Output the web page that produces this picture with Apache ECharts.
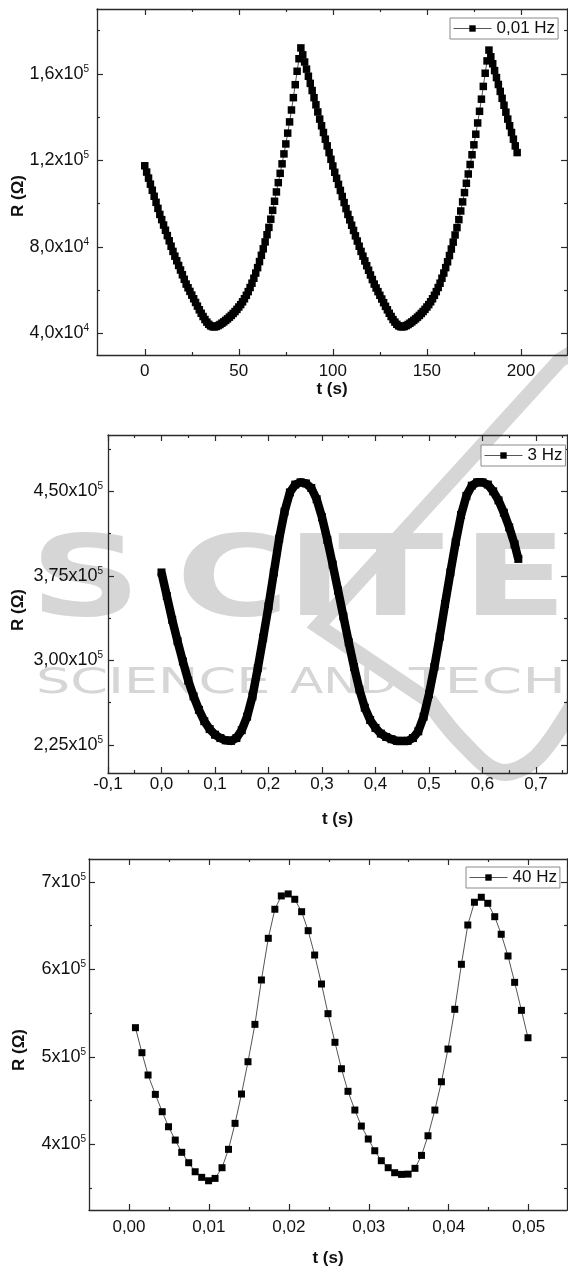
<!DOCTYPE html>
<html><head><meta charset="utf-8">
<script src="https://cdn.jsdelivr.net/npm/echarts@6/dist/echarts.min.js"></script>
<style>html,body{margin:0;padding:0;background:#fff}#c{width:568px;height:1269px}</style>
</head><body><div id="c"></div>
<script>
// ---------- Panel 1 : 0,01 Hz ----------
const p1Time = [0,1,2,3,4,5,6,7,8,9,10,11,12,13,14,15,16,17,18,19,20,21,22,23,24,25,26,27,28,29,30,31,32,33,34,35,36,37,38,39,40,41,42,43,44,45,46,47,48,49,50,51,52,53,54,55,56,57,58,59,60,61,62,63,64,65,66,67,68,69,70,71,72,73,74,75,76,77,78,79,80,81,82,83,84,85,86,87,88,89,90,91,92,93,94,95,96,97,98,99,100,101,102,103,104,105,106,107,108,109,110,111,112,113,114,115,116,117,118,119,120,121,122,123,124,125,126,127,128,129,130,131,132,133,134,135,136,137,138,139,140,141,142,143,144,145,146,147,148,149,150,151,152,153,154,155,156,157,158,159,160,161,162,163,164,165,166,167,168,169,170,171,172,173,174,175,176,177,178,179,180,181,182,183,184,185,186,187,188,189,190,191,192,193,194,195,196,197,198];
const p1R = [117500,114600,111800,109000,106200,103400,100600,97800,95000,92600,90100,87700,85200,82800,80300,77900,75700,73600,71400,69300,67100,65000,62800,61100,59400,57700,56000,54300,52600,50900,49300,47800,46400,45200,44200,43500,43100,43000,43200,43600,44100,44700,45300,46000,46700,47500,48300,49200,50100,51100,52200,53300,54600,56000,57600,59300,61200,63200,65500,67900,70400,73200,76100,79100,82300,85600,89000,92800,96900,101100,105400,109700,114000,118400,123000,127600,132600,137800,143300,149000,155000,161200,167000,172000,168800,165500,162200,158900,155600,152300,149000,145700,142400,139100,136000,132900,129800,126700,123600,120500,117400,114500,111700,108900,106100,103300,100500,97700,95000,92500,90000,87600,85100,82700,80300,77900,75700,73500,71300,69200,67000,64900,62800,61000,59300,57600,55900,54200,52500,50900,49300,47800,46400,45200,44200,43500,43100,43000,43200,43600,44100,44700,45300,46000,46700,47500,48300,49200,50100,51100,52200,53300,54600,56000,57600,59300,61200,63200,65500,67900,70400,73100,76000,79000,82200,85500,88900,92600,96600,100800,105100,109400,113700,118100,122600,127200,132100,137300,142700,148300,154200,160300,166000,171000,167900,164700,161500,158300,155100,151900,148700,145500,142300,139100,136000,132900,129800,126700,123600];
const p1XTicks = [0,50,100,150,200];
const p1XLabels = ['0','50','100','150','200'];
const p1XMinor = [25,75,125,175];
const p1YTicks = [40000,80000,120000,160000];
const p1YMant = ['4,0','8,0','1,2','1,6'];
const p1YExp = ['4','4','5','5'];
const p1YMinor = [60000,100000,140000,180000];

// ---------- Panel 2 : 3 Hz ----------
const p2Time = [0,0.01,0.02,0.03,0.04,0.05,0.06,0.07,0.08,0.09,0.10,0.11,0.12,0.13,0.14,0.15,0.16,0.17,0.18,0.19,0.20,0.21,0.22,0.23,0.24,0.25,0.26,0.27,0.28,0.29,0.30,0.31,0.32,0.33,0.34,0.35,0.36,0.37,0.38,0.39,0.40,0.41,0.42,0.43,0.44,0.45,0.46,0.47,0.48,0.49,0.50,0.51,0.52,0.53,0.54,0.55,0.56,0.57,0.58,0.59,0.60,0.61,0.62,0.63,0.64,0.65,0.66,0.667];
const p2R = [378000,357000,336000,317000,299000,282000,268000,256000,246000,239000,234000,231000,229000,228500,231000,238000,250000,268000,293000,320000,348000,378000,408000,432000,449000,456000,458000,457000,453000,443000,427000,407000,385000,362000,339000,316000,294000,274000,258000,247000,240000,235000,232000,230000,228500,228500,228500,231000,237000,250000,270000,294000,321000,350000,378000,405000,429000,446000,455000,458000,458000,456000,450000,442000,431000,418000,403000,390000];
const p2XTicks = [-0.1,0,0.1,0.2,0.3,0.4,0.5,0.6,0.7];
const p2XLabels = ['-0,1','0,0','0,1','0,2','0,3','0,4','0,5','0,6','0,7'];
const p2XMinor = [-0.05,0.05,0.15,0.25,0.35,0.45,0.55,0.65,0.75];
const p2YTicks = [225000,300000,375000,450000];
const p2YMant = ['2,25','3,00','3,75','4,50'];
const p2YExp = ['5','5','5','5'];
const p2YMinor = [262500,337500,412500,487500];

// ---------- Panel 3 : 40 Hz ----------
const p3Time = [0.00081,0.00162,0.00239,0.0033,0.00416,0.00495,0.00579,0.0066,0.00747,0.00828,0.0091,0.00996,0.01077,0.01164,0.01245,0.01327,0.01408,0.01489,0.01576,0.01657,0.01743,0.01825,0.01906,0.01992,0.02074,0.0216,0.02242,0.02323,0.02409,0.0249,0.02577,0.02658,0.0274,0.02826,0.02907,0.02994,0.03075,0.03157,0.03243,0.03324,0.0341,0.03492,0.03578,0.0366,0.03741,0.03827,0.03909,0.03991,0.04076,0.04159,0.04239,0.04322,0.04408,0.04489,0.04576,0.04657,0.04742,0.04825,0.0491,0.04992];
const p3R = [533300,504700,479200,457100,437300,420100,404900,390900,379000,368700,362300,358400,361100,373300,394300,424000,457500,494400,537100,587800,635400,668600,683800,686100,680000,665800,644100,616300,583200,549300,516600,486400,460600,439200,420900,406100,392700,381300,373300,367600,365700,366000,372600,387400,409800,439200,471500,508900,554300,605700,650600,676600,682300,675400,660100,640000,615200,585100,553100,521800];
const p3XTicks = [0,0.01,0.02,0.03,0.04,0.05];
const p3XLabels = ['0,00','0,01','0,02','0,03','0,04','0,05'];
const p3XMinor = [0.005,0.015,0.025,0.035,0.045];
const p3YTicks = [400000,500000,600000,700000];
const p3YMant = ['4','5','6','7'];
const p3YExp = ['5','5','5','5'];
const p3YMinor = [350000,450000,550000,650000];

// ---------- Publisher watermark text (behind the charts) ----------
const wmBigLetters = ['S','C','I','T','E'];
const wmWords = ['SCIENCE','AND','TECH'];

const FONT = 'Liberation Sans, Arial, Helvetica, sans-serif';
const AX = '#2a2a2a';
const WM = '#d6d6d6';

function near(list, v){
  for (let i=0;i<list.length;i++){ if (Math.abs(list[i]-v) <= 1e-7*Math.max(1,Math.abs(list[i]))) return i; }
  return -1;
}
function xFmt(ticks, labels){ return v => { const i = near(ticks, v); return i<0 ? '' : labels[i]; }; }
function yFmt(ticks, mant, exps){ return v => { const i = near(ticks, v); return i<0 ? '' : '{n|'+mant[i]+'x10}{s|'+exps[i]+'}'; }; }

const xAxes = [], yAxes = [];
function frame(grid, dim, min, max, major, minor, fmt, lblMargin, name, nameGap){
  const list = dim==='x' ? xAxes : yAxes;
  const pos1 = dim==='x' ? 'bottom' : 'left';
  const pos2 = dim==='x' ? 'top' : 'right';
  const lineStyle = {color: AX, width: 1.3};
  const mainIdx = list.length;
  const labelCfg = dim==='x'
    ? {show:true, customValues: major, formatter: fmt, margin: lblMargin, fontSize: 17, color:'#111', fontFamily: FONT}
    : {show:true, customValues: major, formatter: fmt, margin: lblMargin, fontSize: 18, color:'#111', fontFamily: FONT,
       rich: {n:{fontSize:18, color:'#111', fontFamily: FONT, lineHeight: 20},
              s:{fontSize:10, color:'#111', fontFamily: FONT, verticalAlign:'top', lineHeight: 20}}};
  const main = {type:'value', gridIndex: grid, position: pos1, min, max,
    axisLine:{show:true, onZero:false, lineStyle},
    axisTick:{show:true, inside:true, length:6, customValues: major, lineStyle:{color:AX, width:1.2}},
    axisLabel: labelCfg, splitLine:{show:false}};
  if (name) {
    Object.assign(main, {name, nameLocation:'middle', nameGap,
      nameTextStyle:{fontSize:17, fontWeight:'bold', color:'#111', fontFamily: FONT}});
  }
  list.push(main);
  list.push({type:'value', gridIndex: grid, position: pos1, min, max,
    axisLine:{show:false, onZero:false},
    axisTick:{show:true, inside:true, length:3, customValues: minor, lineStyle:{color:AX, width:1.2}},
    axisLabel:{show:false}, splitLine:{show:false}});
  list.push({type:'value', gridIndex: grid, position: pos2, min, max,
    axisLine:{show:true, onZero:false, lineStyle},
    axisTick:{show:true, inside:true, length:6, customValues: major, lineStyle:{color:AX, width:1.2}},
    axisLabel:{show:false}, splitLine:{show:false}});
  list.push({type:'value', gridIndex: grid, position: pos2, min, max,
    axisLine:{show:false, onZero:false},
    axisTick:{show:true, inside:true, length:3, customValues: minor, lineStyle:{color:AX, width:1.2}},
    axisLabel:{show:false}, splitLine:{show:false}});
  return mainIdx;
}

const grids = [
  {left:97, top:9, right:1, height:346},
  {left:108, top:435, right:1, height:338},
  {left:89, top:859, right:1, height:351}
];

const x1 = frame(0,'x',-25.4,224.5,p1XTicks,p1XMinor,xFmt(p1XTicks,p1XLabels),8,'t (s)',16);
const y1 = frame(0,'y',30000,190000,p1YTicks,p1YMinor,yFmt(p1YTicks,p1YMant,p1YExp),8,null,0);
const x2 = frame(1,'x',-0.1,0.758,p2XTicks,p2XMinor,xFmt(p2XTicks,p2XLabels),3,'t (s)',38);
const y2 = frame(1,'y',200000,500000,p2YTicks,p2YMinor,yFmt(p2YTicks,p2YMant,p2YExp),5,null,0);
const x3 = frame(2,'x',-0.005,0.0548,p3XTicks,p3XMinor,xFmt(p3XTicks,p3XLabels),9,'t (s)',40);
const y3 = frame(2,'y',325000,726000,p3YTicks,p3YMinor,yFmt(p3YTicks,p3YMant,p3YExp),3,null,0);

function pairs(t, r){ return t.map((v,i)=>[v, r[i]]); }

const legendBase = {
  orient:'horizontal', borderColor:'#8a8a8a', borderWidth:1, padding:[2,3,2,3],
  itemWidth:38, itemHeight:8, backgroundColor:'#fff',
  textStyle:{fontSize:17, color:'#111', fontFamily: FONT},
  lineStyle:{width:1, color:'#555'}, selectedMode:false
};

function yTitle(x, y){
  return {type:'text', x, y, rotation: Math.PI/2, silent:true,
    style:{text:'R (\u03A9)', fill:'#111', font:'bold 17px ' + FONT, align:'center', verticalAlign:'middle'}};
}

// watermark (drawn under everything)
const bigX = [30, 176, 286, 338, 462];
const wordX = [36, 290, 409];
const wordScale = [1.5, 1.35, 1.62];
const watermark = [];
wmBigLetters.forEach((ch, i) => watermark.push({type:'text', x: bigX[i], y: 586, scaleX: 1.38, z: -10, silent:true,
  style:{text: ch, fill: WM, font: 'bold 112px DejaVu Sans, sans-serif', align:'left', verticalAlign:'middle'}}));
wmWords.forEach((w, i) => watermark.push({type:'text', x: wordX[i], y: 684, scaleX: wordScale[i], z: -10, silent:true,
  style:{text: w, fill: WM, font: '36px DejaVu Sans, sans-serif', align:'left', verticalAlign:'middle'}}));
watermark.push({type:'polyline', z:-9, silent:true,
  shape:{points:[[585,345],[560,360],[318,626],[428,700]]},
  style:{stroke: WM, lineWidth: 15, fill: null, lineJoin:'miter'}});
watermark.push({type:'polyline', z:-9, silent:true,
  shape:{points:[[428,700],[462,742],[500,772],[536,758],[575,702]], smooth:0.35},
  style:{stroke: WM, lineWidth: 17, fill: null}});

const option = {
  animation:false,
  backgroundColor:'#fff',
  grid: grids,
  xAxis: xAxes,
  yAxis: yAxes,
  graphic: watermark.concat([yTitle(18,196), yTitle(18,610), yTitle(19,1050)]),
  legend: [
    Object.assign({}, legendBase, {data:['0,01 Hz'], left:450, top:18}),
    Object.assign({}, legendBase, {data:['3 Hz'], left:481, top:445}),
    Object.assign({}, legendBase, {data:['40 Hz'], left:466, top:867})
  ],
  series: [
    {name:'0,01 Hz', type:'line', xAxisIndex:x1, yAxisIndex:y1, data:pairs(p1Time,p1R),
     symbol:'rect', symbolSize:7.5, showAllSymbol:true, itemStyle:{color:'#000'},
     lineStyle:{color:'#555', width:1}, silent:true},
    {name:'3 Hz', type:'line', xAxisIndex:x2, yAxisIndex:y2, data:pairs(p2Time,p2R),
     symbol:'rect', symbolSize:8, showAllSymbol:true, itemStyle:{color:'#000'},
     lineStyle:{color:'#000', width:8.5, join:'round'}, silent:true},
    {name:'40 Hz', type:'line', xAxisIndex:x3, yAxisIndex:y3, data:pairs(p3Time,p3R),
     symbol:'rect', symbolSize:7, showAllSymbol:true, itemStyle:{color:'#000'},
     lineStyle:{color:'#555', width:1}, silent:true}
  ]
};
const chart = echarts.init(document.getElementById('c'), null, {renderer:'canvas'});
chart.setOption(option);
</script></body></html>
